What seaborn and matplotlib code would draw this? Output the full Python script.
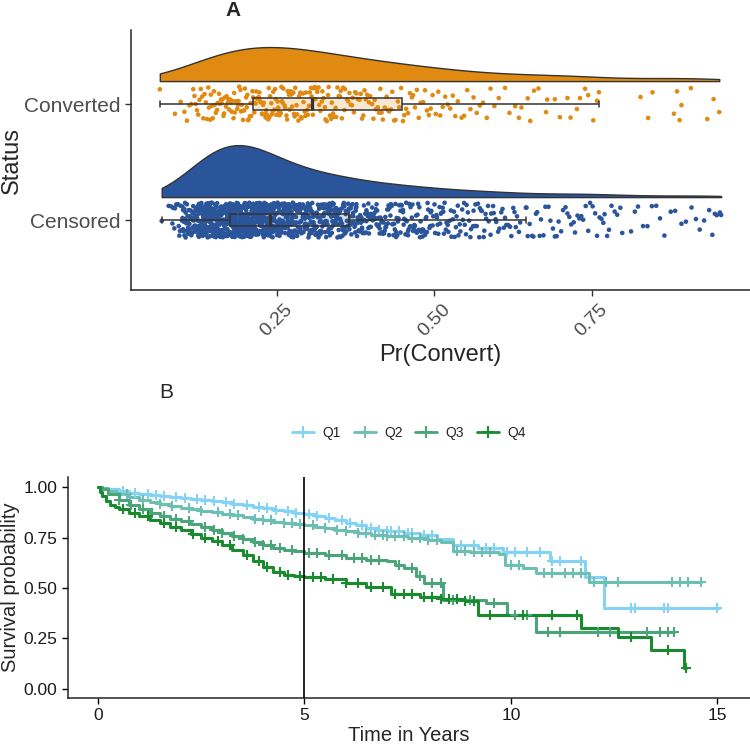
import numpy as np
import pandas as pd
import matplotlib.pyplot as plt
import matplotlib.colors as mcolors
import seaborn as sns
from matplotlib.lines import Line2D
from matplotlib.transforms import Affine2D

np.random.seed(7)  # only used by the strip jitter

# ---- Panel A: Pr(Convert) per status (in thousandths)
converted_pr = np.array([
    64, 88, 97,
    103, 107, 111, 114, 117, 119,
    121, 123, 125, 127, 129, 131, 133, 135, 137, 139,
    141, 142, 144, 145, 147, 148, 150, 151, 153, 155, 156, 158, 159,
    161, 162, 163, 165, 166, 167, 169, 170, 172, 173, 174, 176, 177, 178, 179,
    181, 182, 183, 184, 186, 187, 188, 189, 190, 192, 193, 194, 195, 196, 198, 199,
    201, 202, 203, 204, 205, 207, 208, 209, 211, 212, 213, 214, 216, 217, 218, 219,
    221, 222, 223, 224, 226, 227, 228, 229, 231, 232, 233, 234, 236, 237, 238, 239,
    241, 242, 243, 244, 246, 247, 248, 249, 251, 252, 253, 254, 256, 257, 258, 259,
    260, 262, 263, 265, 266, 267, 269, 270, 272, 273, 274, 276, 277, 278, 279,
    281, 282, 284, 285, 287, 288, 289, 291, 292, 294, 295, 296, 298, 299,
    301, 302, 304, 305, 307, 308, 310, 311, 313, 314, 316, 317, 319,
    321, 322, 324, 326, 327, 329, 331, 332, 334, 336, 337, 339,
    341, 343, 344, 346, 348, 350, 351, 353, 355, 357, 358,
    361, 363, 365, 367, 369, 370, 372, 374, 376, 378,
    381, 383, 385, 387, 389, 391, 393, 396, 398,
    401, 403, 405, 407, 410, 412, 414, 416, 418,
    421, 424, 426, 428, 431, 433, 436, 438,
    442, 444, 447, 450, 452, 455, 458,
    461, 464, 466, 469, 472, 475, 478,
    482, 485, 488, 491, 494, 497,
    502, 506, 509, 513, 517, 521, 525, 529, 533, 537,
    543, 547, 552, 557, 562, 567, 572, 577, 583, 589, 595,
    602, 612, 619, 628, 634, 638, 648, 652, 658, 665, 677, 679,
    691, 699, 711, 716, 726, 731, 739, 744, 752, 758, 761,
    827, 839, 846, 880, 885, 889, 892, 907, 933, 943, 952,
]) / 1000

censored_pr_a = np.array([
    67, 78,
    82, 85, 88, 90, 93, 95, 97, 99,
    100, 101, 101, 103, 104, 104, 105, 107, 108, 108, 109, 110, 111, 112, 112, 114,
    115, 116, 117, 117, 118, 119,
    120, 120, 121, 121, 122, 123, 123, 124, 124, 125, 126, 126, 127, 127, 128, 129,
    129, 130, 130, 131, 132, 132, 133, 133, 134, 135, 135, 136, 136, 137, 137, 138,
    138, 139, 139, 139,
    140, 140, 141, 141, 141, 142, 142, 143, 143, 144, 144, 144, 145, 145, 146, 146,
    146, 147, 147, 148, 148, 148, 149, 149, 150, 150, 150, 151, 151, 152, 152, 152,
    153, 153, 154, 154, 154, 155, 155, 156, 156, 157, 157, 158, 158, 159, 159,
    160, 160, 160, 161, 161, 162, 162, 162, 163, 163, 164, 164, 164, 165, 165, 166,
    166, 166, 167, 167, 168, 168, 168, 169, 169, 169, 170, 170, 170, 171, 171, 172,
    172, 172, 173, 173, 174, 174, 174, 175, 175, 176, 176, 176, 177, 177, 177, 178,
    178, 179, 179, 179,
    180, 180, 180, 181, 181, 182, 182, 182, 183, 183, 183, 184, 184, 185, 185, 185,
    186, 186, 187, 187, 187, 188, 188, 188, 189, 189, 190, 190, 190, 191, 191, 192,
    192, 192, 193, 193, 193, 194, 194, 195, 195, 195, 196, 196, 197, 197, 197, 198,
    198, 199, 199, 199,
    200, 200, 200, 201, 201, 202, 202, 202, 203, 203, 204, 204, 204, 205, 205, 206,
    206, 207, 207, 207, 208, 208, 209, 209, 209, 210, 210, 211, 211, 212, 212, 212,
    213, 213, 214, 214, 215, 215, 215, 216, 216, 217, 217, 218, 218, 218, 219, 219,
    220, 220, 221, 221, 222, 222, 222, 223, 223, 224, 224, 225, 225, 226, 226, 227,
    227, 227, 228, 228, 229, 229, 230, 230, 231, 231, 232, 232, 232, 233, 233, 234,
    234, 235, 235, 236, 236, 237, 237, 238, 239,
    240, 240, 241, 241, 242, 242, 243, 243, 244, 244, 245, 245, 246, 247, 247, 248,
    248, 249, 249, 250, 251, 251, 252, 252, 253, 254, 254, 255, 255, 256, 256, 257,
    258, 259,
    260, 261, 261, 262, 263, 263, 264, 265, 265, 266, 267, 267, 268, 269, 269, 270,
    271, 271, 272, 273, 273, 274, 275, 275, 276, 277, 278, 278, 279,
    280, 281, 282, 282, 283, 284, 285, 285, 286, 287, 288, 288, 289, 290, 291, 291,
    292, 293, 294, 295, 295, 296, 297, 298, 299,
    300, 301, 302, 303, 304, 305, 306, 306, 307, 308, 309, 310, 311, 312, 313, 313,
    314, 315, 316, 317, 318, 319,
    320, 321, 322, 324, 324, 325, 326, 328, 328, 329, 330, 331, 333, 333, 334, 335,
    336, 337, 338, 339,
    340, 341, 342, 343, 344, 345, 346, 347, 348, 349, 350, 351, 353, 354, 355, 356,
    357, 358, 359,
    360, 361, 363, 364, 365, 366, 368, 369, 370, 371, 372, 374, 375, 376, 378, 379,
    380, 382, 383, 385, 386, 387, 389, 390, 392, 393, 395, 396, 398, 399,
    401, 402, 404, 405, 407, 408, 410, 412, 413, 415, 417, 419,
    420, 422, 423, 425, 427, 428, 430, 431, 433, 435, 437, 439,
    441, 443, 446, 447, 450, 451, 454, 455, 458, 459,
    461, 462, 465, 467, 468, 471, 473, 474, 477, 479,
    481, 483, 486, 488, 490, 493, 495, 498,
    501, 504, 506, 509, 511, 514, 516, 519,
    522, 526, 529, 532, 535, 538,
    541, 545, 548, 551, 555, 558,
    562, 565, 569, 572, 575, 579,
    582, 586, 590, 594, 598,
    603, 608, 612, 617, 622, 627, 631, 636,
    645, 651, 657, 663, 669, 676, 684, 691, 697,
    704, 711, 717, 723, 730, 736, 744, 751, 758,
    765, 770, 777, 786, 795,
    818, 831, 845, 858, 882, 899, 908, 921, 941, 945, 955,
]) / 1000

censored_pr_b = np.array([
    84, 87, 91, 94, 96, 98,
    100, 102, 102, 103, 105, 106, 106, 107, 109, 110, 110, 111, 113, 113, 114, 115,
    116, 117, 118, 118, 119, 119,
    120, 121, 122, 122, 123, 124, 125, 125, 126, 127, 128, 128, 129, 130, 131, 131,
    132, 133, 134, 134, 135, 136, 137, 138, 138, 139, 121, 124, 127, 130, 133, 136,
    139, 126, 132, 137,
    140, 141, 142, 143, 144, 145, 146, 147, 148, 149, 150, 151, 152, 153, 154, 155,
    156, 157, 158, 159, 140, 141, 142, 143, 145, 146, 147, 149, 150, 151, 153, 154,
    155, 157, 158, 159, 141, 143, 144, 146, 148, 150, 152, 154, 156, 157, 158,
    160, 161, 162, 163, 164, 165, 166, 167, 168, 169, 170, 171, 172, 173, 174, 175,
    176, 177, 178, 179, 160, 161, 162, 163, 164, 165, 166, 167, 168, 169, 170, 171,
    172, 173, 174, 175, 176, 177, 178, 179, 161, 163, 165, 167, 169, 171, 173, 175,
    176, 177, 178, 179,
    180, 181, 182, 183, 184, 185, 186, 187, 188, 189, 190, 191, 192, 193, 194, 195,
    196, 197, 198, 199, 180, 181, 182, 183, 184, 185, 186, 187, 188, 189, 190, 191,
    192, 193, 194, 195, 196, 197, 198, 199, 180, 182, 184, 186, 188, 190, 191, 193,
    194, 196, 197, 198,
    200, 201, 202, 203, 204, 205, 206, 207, 208, 209, 210, 211, 212, 213, 214, 215,
    216, 217, 218, 219, 200, 201, 202, 203, 204, 205, 206, 207, 208, 209, 210, 211,
    212, 213, 214, 215, 216, 217, 218, 219, 201, 203, 206, 209, 211, 214, 216, 218,
    220, 221, 222, 223, 224, 225, 226, 227, 228, 229, 230, 231, 232, 233, 234, 235,
    236, 237, 238, 239, 220, 221, 222, 223, 224, 225, 226, 227, 228, 229, 230, 231,
    232, 233, 234, 235, 236, 237, 238, 239, 225,
    240, 241, 242, 243, 244, 245, 246, 247, 248, 249, 250, 251, 252, 253, 254, 255,
    256, 257, 258, 259, 240, 241, 243, 244, 245, 247, 248, 250, 251, 253, 254, 256,
    257, 259,
    260, 261, 262, 263, 264, 265, 266, 267, 268, 269, 270, 271, 272, 273, 274, 275,
    276, 277, 278, 279, 261, 263, 265, 267, 269, 271, 273, 275, 277,
    280, 281, 282, 283, 284, 285, 286, 287, 288, 289, 290, 291, 292, 293, 294, 295,
    296, 297, 298, 299, 282, 286, 290, 294, 298,
    300, 301, 302, 303, 304, 305, 306, 307, 308, 309, 310, 311, 312, 313, 314, 315,
    316, 317, 318, 319, 304, 313,
    320, 321, 322, 323, 324, 325, 326, 327, 328, 329, 330, 331, 332, 333, 334, 335,
    336, 337, 338, 339,
    340, 341, 342, 343, 344, 345, 346, 347, 348, 349, 350, 351, 353, 354, 355, 356,
    357, 358, 359,
    360, 362, 363, 364, 366, 367, 368, 370, 371, 373, 374, 375, 376, 377, 378, 379,
    381, 382, 384, 385, 387, 388, 389, 391, 392, 394, 395, 397, 398, 399,
    400, 402, 403, 405, 406, 408, 409, 411, 413, 414, 416, 418,
    421, 422, 424, 426, 427, 429, 430, 432, 434, 436, 438, 439,
    440, 442, 444, 446, 448, 450, 452, 454, 456, 458,
    460, 462, 464, 466, 469, 470, 472, 475, 476, 478,
    480, 482, 485, 487, 489, 492, 494, 497,
    500, 503, 505, 508, 510, 513, 515, 518,
    521, 524, 527, 531, 534, 537,
    540, 544, 547, 550, 553, 557,
    561, 564, 567, 571, 574, 578,
    581, 585, 589, 593, 597,
    601, 606, 610, 614, 620, 625, 629, 634,
    646, 648, 655, 661, 667, 673, 681, 688, 694, 701, 708, 714, 721, 727, 733, 740,
    747, 755, 762, 768, 774, 781, 790, 798,
    812, 823, 838, 852, 865, 875, 892, 915, 928, 936, 948, 953,
]) / 1000

censored_pr = np.concatenate([censored_pr_a, censored_pr_b])

status_order = ['Converted', 'Censored']
status_colors = {'Converted': '#E08A12', 'Censored': '#2B559B'}
violin_height = {'Converted': 0.293, 'Censored': 0.448}  # peak height, category units
violin_gap = 0.198  # baseline of the cloud sits this far above the category

# ---- Panel B: Kaplan-Meier steps per quartile (years, survival) and censor times
q1_time = [0, 0.1, 0.25, 0.5, 0.75, 1.0, 1.25, 1.5, 1.75, 2.0, 2.25, 2.5, 2.75, 3.0,
           3.25, 3.5, 3.75, 4.0, 4.25, 4.5, 4.75, 5.0, 5.25, 5.5, 5.75, 6.0, 6.25, 6.5,
           6.75, 7.0, 7.4, 7.8, 8.2, 8.6, 9.2, 9.8, 10.95, 11.8, 12.25, 15.05]
q1_surv = [1.0, 0.995, 0.988, 0.980, 0.972, 0.966, 0.961, 0.956, 0.951, 0.946, 0.941,
           0.936, 0.930, 0.925, 0.918, 0.911, 0.903, 0.896, 0.888, 0.880, 0.872, 0.865,
           0.856, 0.846, 0.836, 0.823, 0.810, 0.797, 0.788, 0.780, 0.770, 0.760, 0.745,
           0.715, 0.700, 0.680, 0.635, 0.556, 0.400, 0.400]
q1_cens = [0.6, 0.9, 1.2, 1.4, 1.6, 1.9, 2.1, 2.4, 2.6, 2.8, 3.1, 3.3, 3.6, 3.9, 4.1,
           4.3, 4.6, 4.8, 5.1, 5.3, 5.6, 5.9, 6.1, 6.4, 6.6, 6.8, 7.0, 7.1, 7.3, 7.5,
           7.6, 7.9, 8.1, 8.8, 9.1, 9.4, 9.6, 9.9, 10.1, 10.4, 10.7, 11.0, 11.2, 11.7,
           12.9, 13.0, 13.7, 13.8, 15.0]

q2_time = [0, 0.1, 0.25, 0.5, 0.75, 1.0, 1.25, 1.5, 1.75, 2.0, 2.25, 2.5, 2.75, 3.0,
           3.25, 3.5, 3.75, 4.0, 4.25, 4.5, 4.75, 5.0, 5.25, 5.5, 5.75, 6.0, 6.3, 6.6,
           7.0, 7.5, 8.0, 8.3, 8.6, 9.0, 9.7, 9.85, 10.3, 10.6, 11.0, 11.9, 14.6]
q2_surv = [1.0, 0.993, 0.982, 0.966, 0.950, 0.937, 0.926, 0.916, 0.906, 0.897, 0.889,
           0.881, 0.874, 0.866, 0.859, 0.852, 0.844, 0.837, 0.829, 0.822, 0.816, 0.810,
           0.803, 0.796, 0.788, 0.780, 0.772, 0.764, 0.758, 0.750, 0.738, 0.728, 0.682,
           0.678, 0.668, 0.614, 0.600, 0.575, 0.572, 0.531, 0.531]
q2_cens = [0.7, 1.1, 1.5, 1.8, 2.2, 2.5, 2.9, 3.2, 3.4, 3.8, 4.0, 4.2, 4.5, 4.7, 4.9,
           5.2, 5.5, 5.8, 6.0, 6.3, 6.5, 6.7, 6.9, 7.0, 7.2, 7.4, 7.6, 7.8, 8.0, 8.2,
           8.7, 8.9, 9.1, 9.3, 9.5, 10.0, 10.2, 10.8, 11.0, 11.3, 11.5, 11.7, 12.0,
           12.3, 12.6, 13.9, 14.1, 14.3, 14.6]

q3_time = [0, 0.1, 0.25, 0.5, 0.75, 1.0, 1.25, 1.5, 1.75, 2.0, 2.25, 2.5, 2.75, 3.0,
           3.25, 3.5, 3.75, 4.0, 4.25, 4.5, 4.75, 5.0, 5.5, 6.0, 6.5, 7.0, 7.2, 7.4,
           7.7, 7.9, 8.35, 9.4, 9.9, 10.6, 13.95]
q3_surv = [1.0, 0.990, 0.965, 0.935, 0.910, 0.890, 0.872, 0.857, 0.843, 0.830, 0.815,
           0.800, 0.786, 0.771, 0.756, 0.741, 0.726, 0.712, 0.700, 0.690, 0.682, 0.675,
           0.665, 0.648, 0.637, 0.632, 0.615, 0.600, 0.558, 0.527, 0.440, 0.425, 0.366,
           0.284, 0.284]
q3_cens = [0.5, 0.8, 1.1, 1.3, 1.6, 1.9, 2.2, 2.6, 2.8, 3.0, 3.3, 3.5, 3.8, 4.0, 4.2,
           4.4, 4.7, 5.1, 5.3, 5.6, 5.9, 6.2, 6.4, 6.6, 6.8, 7.3, 7.6, 7.8, 8.1, 8.3,
           8.6, 9.0, 9.6, 10.1, 10.4, 10.9, 11.2, 12.1, 12.4, 13.3, 13.6, 13.8, 13.95]

q4_time = [0, 0.05, 0.1, 0.2, 0.3, 0.4, 0.5, 0.75, 1.0, 1.25, 1.5, 1.75, 2.0, 2.25,
           2.5, 2.75, 3.0, 3.25, 3.5, 3.75, 4.0, 4.25, 4.5, 4.75, 5.0, 5.5, 6.0, 6.5,
           7.1, 7.8, 8.3, 8.9, 9.2, 11.7, 12.6, 13.4, 14.2, 14.25]
q4_surv = [1.0, 0.975, 0.955, 0.930, 0.912, 0.899, 0.890, 0.870, 0.855, 0.838, 0.821,
           0.803, 0.786, 0.768, 0.750, 0.731, 0.712, 0.688, 0.662, 0.635, 0.605, 0.578,
           0.566, 0.561, 0.556, 0.545, 0.527, 0.507, 0.470, 0.455, 0.445, 0.436, 0.366,
           0.303, 0.256, 0.193, 0.102, 0.102]
q4_cens = [0.6, 0.9, 1.2, 1.6, 1.9, 2.3, 2.6, 2.9, 3.2, 3.6, 3.9, 4.1, 4.4, 4.6, 4.9,
           5.2, 5.4, 5.7, 6.0, 6.3, 6.6, 6.9, 7.2, 7.4, 7.6, 7.9, 8.1, 8.3, 8.5, 8.7,
           8.9, 9.1, 9.5, 10.3, 11.0, 11.6, 12.9, 13.8, 14.25]

km_labels = ['Q1', 'Q2', 'Q3', 'Q4']
km_colors = ['#84D3F6', '#6CBFB2', '#4CA57A', '#1A8A2F']

sns.set_theme(style='ticks')
plt.rcParams['font.family'] = ['Liberation Sans', 'DejaVu Sans']
plt.rcParams['axes.linewidth'] = 1.1

fig = plt.figure(figsize=(7.5, 7.45), dpi=100)
ax1 = fig.add_axes([0.1747, 0.6107, 0.8253, 0.3490])
ax2 = fig.add_axes([0.0907, 0.0631, 0.9093, 0.2966])

# ---- raincloud (panel A)
pr_df = pd.DataFrame({
    'pr': np.concatenate([converted_pr, censored_pr]),
    'status': ['Converted'] * len(converted_pr) + ['Censored'] * len(censored_pr),
})

for status in status_order:
    w = violin_height[status]
    n_before = len(ax1.collections)
    sns.violinplot(data=pr_df[pr_df.status == status], x='pr', y='status',
                   order=status_order, split=True, inner=None, cut=0, width=w,
                   color=status_colors[status], saturation=1, linecolor='#333333',
                   linewidth=1, ax=ax1)
    # seaborn puts the flat side of the half violin w/2 below the category;
    # lift it so it sits above the jittered points
    lift = Affine2D().translate(0, -(w / 2 + violin_gap))
    for coll in ax1.collections[n_before:]:
        coll.set_transform(lift + ax1.transData)
        coll.set_zorder(1)

sns.stripplot(data=pr_df, x='pr', y='status', order=status_order, hue='status',
              palette=status_colors, size=3.3, jitter=0.15, linewidth=0, legend=False,
              ax=ax1, zorder=2)

n_lines = len(ax1.lines)
sns.boxplot(data=pr_df, x='pr', y='status', order=status_order, hue='status',
            palette=status_colors, width=0.1, showfliers=False, saturation=1,
            linecolor='#333333', linewidth=1.1, medianprops={'linewidth': 2.4},
            legend=False, ax=ax1)
for patch in ax1.patches:
    patch.set_facecolor(mcolors.to_rgba(patch.get_facecolor(), 0.2))
    patch.set_zorder(3)
for line in ax1.lines[n_lines:]:
    line.set_zorder(3.5)

ax1.set_xlim(0.0183, 1.0008)
ax1.set_ylim(1.603, -0.638)
ax1.set_xticks([0.25, 0.50, 0.75])
ax1.set_xticklabels(['0.25', '0.50', '0.75'], rotation=45, ha='center')
ax1.set_xlabel('Pr(Convert)', fontsize=17, labelpad=3)
ax1.set_ylabel('Status', fontsize=17, labelpad=1)
ax1.tick_params(axis='both', length=4, width=1, color='#333333',
                labelcolor='#4D4D4D', labelsize=15)
ax1.tick_params(axis='x', labelsize=14)
sns.despine(ax=ax1)
fig.text(233 / 750, 1 - 11 / 745, 'A', fontsize=15, fontweight='bold', ha='center', va='center')

# ---- Kaplan-Meier curves (panel B)
km_sets = [(q1_time, q1_surv, q1_cens), (q2_time, q2_surv, q2_cens),
           (q3_time, q3_surv, q3_cens), (q4_time, q4_surv, q4_cens)]
for (t, s, cens), col in zip(km_sets, km_colors):
    sns.lineplot(x=t, y=s, color=col, drawstyle='steps-post', linewidth=2.2,
                 estimator=None, ax=ax2)
    t_arr, s_arr = np.asarray(t), np.asarray(s)
    idx = np.searchsorted(t_arr, cens, side='right') - 1
    sns.scatterplot(x=cens, y=s_arr[idx], marker='+', s=45, color=col,
                    linewidth=1.5, ax=ax2, zorder=3)

ax2.axvline(5, color='black', linewidth=1.2, zorder=4)
ax2.set_xlim(-0.726, 15.79)
ax2.set_ylim(-0.0446, 1.0495)
ax2.set_xticks([0, 5, 10, 15])
ax2.set_yticks([0, 0.25, 0.5, 0.75, 1.0])
ax2.yaxis.set_major_formatter('{x:.2f}')
ax2.set_xlabel('Time in Years', fontsize=14.5, labelpad=2)
ax2.set_ylabel('Survival probability', fontsize=14.5, labelpad=3)
ax2.tick_params(axis='both', length=4, width=1, color='black',
                labelcolor='#1A1A1A', labelsize=12.5)
sns.despine(ax=ax2)

handles = [Line2D([], [], color=c, linewidth=2, marker='+', markersize=8, markeredgewidth=1.5)
           for c in km_colors]
ax2.legend(handles, km_labels, ncol=4, loc='center', bbox_to_anchor=(0.5, 1.2),
           frameon=False, fontsize=10, handlelength=1.6, handletextpad=0.6,
           columnspacing=0.9)
fig.text(166 / 750, 1 - 393 / 745, 'B', fontsize=15, ha='center', va='center')

fig.savefig('out.png', dpi=100)
